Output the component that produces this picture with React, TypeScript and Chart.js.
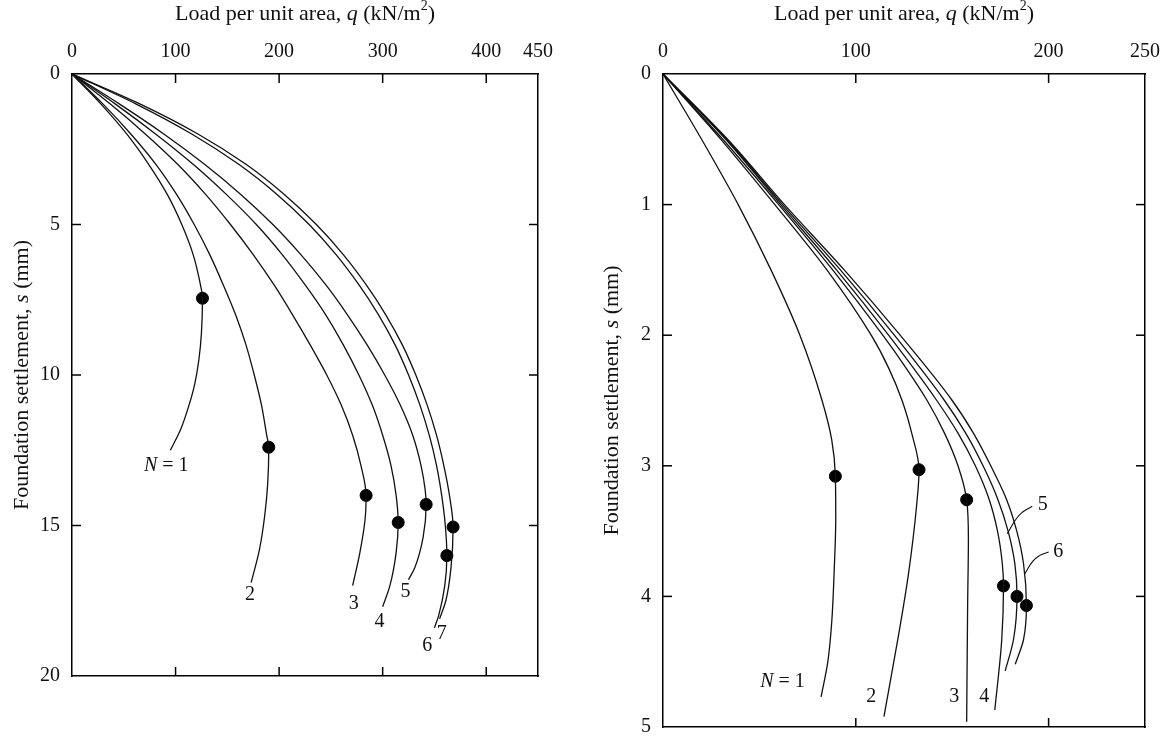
import React, { useEffect, useRef } from "react";
import { Chart, registerables } from "chart.js";

Chart.register(...registerables);

type Pair = [number, number];
type Seg = { t: string; it?: boolean; sup?: boolean };

const FONT = "'Liberation Serif', 'Times New Roman', serif";
const TICK_SIZE = 20;
const TITLE_SIZE = 22;
const LABEL_SIZE = 20;

// ---------- Left panel data (q in kN/m², s in mm) ----------
const leftXTicks = [0, 100, 200, 300, 400, 450];
const leftYTicks = [0, 5, 10, 15, 20];
const leftInnerXTicks = [100, 200, 300, 400];
const leftInnerYTicks = [5, 10, 15];

const leftN1: Pair[] = [[0, 0], [28, 1], [53, 2], [74, 3], [92, 4], [106, 5], [117, 6], [124, 7], [126, 7.45], [125, 8.6], [122.5, 9.5], [118.5, 10.3], [113, 11], [105, 11.8], [95, 12.5]];
const leftN2: Pair[] = [[0, 0], [30, 1], [57, 2], [81, 3], [101, 4], [118, 5], [133, 6], [146, 7], [158, 8], [168, 9], [176, 10], [183, 11], [188, 12], [190, 12.4], [189, 13.6], [186, 14.7], [181, 15.8], [173, 16.9]];
const leftN3: Pair[] = [[0, 0], [37, 1], [71, 2], [102, 3], [129, 4], [153, 5], [175, 6], [195, 7], [213, 8], [230, 9], [246, 10], [260, 11], [271, 12], [279, 13], [284, 14.0], [283, 14.8], [278, 15.9], [271, 17.0]];
const leftN4: Pair[] = [[0, 0], [42, 1], [81, 2], [117, 3], [149, 4], [178, 5], [203, 6], [225, 7], [245, 8], [262, 9], [277, 10], [290, 11], [300, 12], [308, 13], [313, 14], [315, 14.9], [313, 15.9], [307, 17.0], [300, 17.7]];
const leftN5: Pair[] = [[0, 0], [46, 1], [89, 2], [128, 3], [163, 4], [194, 5], [221, 6], [245, 7], [266, 8], [285, 9], [302, 10], [317, 11], [329, 12], [337, 13], [341, 13.8], [342, 14.3], [339, 15.4], [331, 16.4], [325, 16.8]];
const leftN6: Pair[] = [[0, 0], [62, 1], [116, 2], [161, 3], [198, 4], [229, 5], [255, 6], [277, 7], [296, 8], [312, 9], [325, 10], [336, 11], [345, 12], [352, 13], [357, 14], [360.5, 15], [362, 16.0], [360, 17], [354, 18], [350, 18.4]];
const leftN7: Pair[] = [[0, 0], [66, 1], [122, 2], [168, 3], [205, 4], [236, 5], [262, 6], [284, 7], [303, 8], [319, 9], [332, 10], [343, 11], [352, 12], [359, 13], [364.5, 14], [368, 15.05], [366, 16.4], [361, 17.5], [355, 18.1]];
const leftCurves = [leftN1, leftN2, leftN3, leftN4, leftN5, leftN6, leftN7];
const leftPeaks: Pair[] = [[126, 7.45], [190, 12.4], [284, 14.0], [315, 14.9], [342, 14.3], [362, 16.0], [368, 15.05]];
const leftLabelText = ["N = 1", "2", "3", "4", "5", "6", "7"];
const leftLabelPos: Pair[] = [[91, 13.0], [172, 17.3], [272, 17.6], [297, 18.2], [322, 17.2], [343, 19.0], [357, 18.6]];

// ---------- Right panel data ----------
const rightXTicks = [0, 100, 200, 250];
const rightYTicks = [0, 1, 2, 3, 4, 5];
const rightInnerXTicks = [100, 200];
const rightInnerYTicks = [1, 2, 3, 4];

const rightN1: Pair[] = [[0, 0], [20, 0.5], [39, 1], [56, 1.5], [71, 2], [82.5, 2.5], [87.5, 2.8], [89.4, 3.08], [89.6, 3.4], [88.8, 3.8], [87.5, 4.2], [85.5, 4.5], [82, 4.77]];
const rightN2: Pair[] = [[0, 0], [30, 0.5], [58, 1], [85, 1.5], [108, 2], [117, 2.25], [124, 2.5], [129, 2.75], [132.8, 3.03], [131.5, 3.31], [127.4, 3.82], [121.9, 4.32], [114.6, 4.92]];
const rightN3: Pair[] = [[0, 0], [31, 0.5], [60, 1], [88, 1.5], [114, 2], [126, 2.25], [137, 2.5], [146, 2.75], [153, 3], [157.5, 3.26], [158.4, 3.56], [158, 4.07], [157.5, 4.96]];
const rightN4: Pair[] = [[0, 0], [32.5, 0.5], [61, 1], [90, 1.5], [117, 2], [142, 2.5], [153, 2.75], [162, 3], [169, 3.25], [173.5, 3.5], [176, 3.75], [176.6, 3.92], [175.7, 4.33], [172.1, 4.87]];
const rightN5: Pair[] = [[0, 0], [33, 0.5], [62, 1], [92, 1.5], [120, 2], [146, 2.5], [157, 2.75], [166, 3], [173.5, 3.25], [179, 3.5], [182.5, 3.75], [183.6, 4.0], [181.8, 4.33], [177.5, 4.57]];
const rightN6: Pair[] = [[0, 0], [33.5, 0.5], [63, 1], [94, 1.5], [123, 2], [150, 2.5], [161, 2.75], [170, 3], [178, 3.25], [183.5, 3.5], [187, 3.75], [188.5, 4.07], [187, 4.33], [182.7, 4.52]];
const rightCurves = [rightN1, rightN2, rightN3, rightN4, rightN5, rightN6];
const rightPeaks: Pair[] = [[89.4, 3.08], [132.8, 3.03], [157.5, 3.26], [176.6, 3.92], [183.6, 4.0], [188.5, 4.07]];
const rightLabelText = ["N = 1", "2", "3", "4", "5", "6"];
const rightLabelPos: Pair[] = [[62, 4.65], [108, 4.77], [151, 4.77], [166.6, 4.77], [197, 3.3], [205, 3.66]];
const rightLeader5: Pair[] = [[178.5, 3.52], [186, 3.36], [191.5, 3.31]];
const rightLeader6: Pair[] = [[187.5, 3.83], [195, 3.69], [200, 3.66]];
const rightLeaders = [rightLeader5, rightLeader6];

const xTitle: Seg[] = [{ t: "Load per unit area, " }, { t: "q", it: true }, { t: " (kN/m" }, { t: "2", sup: true }, { t: ")" }];
const yTitle: Seg[] = [{ t: "Foundation settlement, " }, { t: "s", it: true }, { t: " (mm)" }];

function labelSegs(text: string): Seg[] {
  if (text.startsWith("N")) return [{ t: "N", it: true }, { t: text.slice(1) }];
  return [{ t: text }];
}

function drawRich(ctx: CanvasRenderingContext2D, segs: Seg[], cx: number, cy: number, size: number) {
  const fontFor = (s: Seg) => `${s.it ? "italic " : ""}${s.sup ? Math.round(size * 0.62) : size}px ${FONT}`;
  let total = 0;
  const widths = segs.map((s) => {
    ctx.font = fontFor(s);
    const w = ctx.measureText(s.t).width;
    total += w;
    return w;
  });
  let x = cx - total / 2;
  ctx.textAlign = "left";
  ctx.textBaseline = "middle";
  segs.forEach((s, i) => {
    ctx.font = fontFor(s);
    ctx.fillText(s.t, x, s.sup ? cy - size * 0.35 : cy);
    x += widths[i];
  });
}

type PanelCfg = {
  canvasLeft: number;
  width: number;
  height: number;
  area: { left: number; right: number; top: number; bottom: number };
  xMax: number;
  yMax: number;
  xTicks: number[];
  yTicks: number[];
  innerX: number[];
  innerY: number[];
  curves: Pair[][];
  peaks: Pair[];
  labelText: string[];
  labelPos: Pair[];
  leaders: Pair[][];
};

const leftCfg: PanelCfg = {
  canvasLeft: 0,
  width: 590,
  height: 751,
  area: { left: 72, right: 538, top: 74, bottom: 676 },
  xMax: 450,
  yMax: 20,
  xTicks: leftXTicks,
  yTicks: leftYTicks,
  innerX: leftInnerXTicks,
  innerY: leftInnerYTicks,
  curves: leftCurves,
  peaks: leftPeaks,
  labelText: leftLabelText,
  labelPos: leftLabelPos,
  leaders: [],
};

const rightCfg: PanelCfg = {
  canvasLeft: 590,
  width: 586,
  height: 751,
  area: { left: 73, right: 555, top: 74, bottom: 744 },
  xMax: 250,
  yMax: 5,
  xTicks: rightXTicks,
  yTicks: rightYTicks,
  innerX: rightInnerXTicks,
  innerY: rightInnerYTicks,
  curves: rightCurves,
  peaks: rightPeaks,
  labelText: rightLabelText,
  labelPos: rightLabelPos,
  leaders: rightLeaders,
};

const toPts = (arr: Pair[]) => arr.map(([x, y]) => ({ x, y }));

function makeDecor(cfg: PanelCfg) {
  return {
    id: "decor",
    afterDraw(chart: any) {
      const { ctx, chartArea: ca, scales } = chart;
      const xs = scales.x;
      const ys = scales.y;
      ctx.save();
      ctx.strokeStyle = "#000";
      ctx.lineWidth = 1.5;
      const L = 9;
      const seg = (a: number, b: number, c: number, d: number) => {
        ctx.beginPath();
        ctx.moveTo(a, b);
        ctx.lineTo(c, d);
        ctx.stroke();
      };
      cfg.innerX.forEach((v) => {
        const p = xs.getPixelForValue(v);
        seg(p, ca.top, p, ca.top + L);
        seg(p, ca.bottom, p, ca.bottom - L);
      });
      cfg.innerY.forEach((v) => {
        const p = ys.getPixelForValue(v);
        seg(ca.left, p, ca.left + L, p);
        seg(ca.right, p, ca.right - L, p);
      });
      ctx.fillStyle = "#111";
      cfg.labelText.forEach((t, i) => {
        const [q, s] = cfg.labelPos[i];
        drawRich(ctx, labelSegs(t), xs.getPixelForValue(q), ys.getPixelForValue(s), LABEL_SIZE);
      });
      drawRich(ctx, xTitle, (ca.left + ca.right) / 2, 14, TITLE_SIZE);
      ctx.translate(22, (ca.top + ca.bottom) / 2);
      ctx.rotate(-Math.PI / 2);
      drawRich(ctx, yTitle, 0, 0, TITLE_SIZE);
      ctx.restore();
    },
  };
}

function Panel({ cfg }: { cfg: PanelCfg }) {
  const ref = useRef<HTMLCanvasElement | null>(null);
  useEffect(() => {
    if (!ref.current) return;
    const a = cfg.area;
    const tickFont = { family: FONT, size: TICK_SIZE };
    const border = { display: true, color: "#000", width: 1.5 };
    const curveSets = cfg.curves.map((c) => ({
      data: toPts(c),
      borderColor: "#111",
      borderWidth: 1.3,
      pointRadius: 0,
      cubicInterpolationMode: "monotone",
      fill: false,
    }));
    const leaderSets = cfg.leaders.map((c) => ({
      data: toPts(c),
      borderColor: "#111",
      borderWidth: 1.1,
      pointRadius: 0,
      cubicInterpolationMode: "monotone",
      fill: false,
    }));
    const peakSet = {
      data: toPts(cfg.peaks),
      showLine: false,
      pointRadius: 6,
      pointBackgroundColor: "#000",
      pointBorderColor: "#000",
      borderColor: "#000",
    };
    const chart = new Chart(ref.current, {
      type: "line",
      data: { datasets: [...curveSets, ...leaderSets, peakSet] as any },
      options: {
        indexAxis: "y",
        animation: false,
        responsive: false,
        maintainAspectRatio: false,
        layout: { padding: 0 },
        plugins: { legend: { display: false }, tooltip: { enabled: false }, title: { display: false } },
        scales: {
          x: {
            type: "linear",
            axis: "x",
            position: "top",
            min: 0,
            max: cfg.xMax,
            afterBuildTicks: (s: any) => {
              s.ticks = cfg.xTicks.map((v) => ({ value: v }));
            },
            grid: { display: false, drawTicks: false },
            border,
            ticks: { color: "#111", font: tickFont, padding: 10, maxRotation: 0, autoSkip: false },
            afterFit: (s: any) => {
              s.height = a.top;
            },
          },
          x2: {
            type: "linear",
            axis: "x",
            position: "bottom",
            min: 0,
            max: cfg.xMax,
            grid: { display: false, drawTicks: false },
            border,
            ticks: { display: false },
            afterFit: (s: any) => {
              s.height = cfg.height - a.bottom;
            },
          },
          y: {
            type: "linear",
            axis: "y",
            position: "left",
            reverse: true,
            min: 0,
            max: cfg.yMax,
            afterBuildTicks: (s: any) => {
              s.ticks = cfg.yTicks.map((v) => ({ value: v }));
            },
            grid: { display: false, drawTicks: false },
            border,
            ticks: { color: "#111", font: tickFont, padding: 12, autoSkip: false },
            afterFit: (s: any) => {
              s.width = a.left;
            },
          },
          y2: {
            type: "linear",
            axis: "y",
            position: "right",
            reverse: true,
            min: 0,
            max: cfg.yMax,
            grid: { display: false, drawTicks: false },
            border,
            ticks: { display: false },
            afterFit: (s: any) => {
              s.width = cfg.width - a.right;
            },
          },
        } as any,
      },
      plugins: [makeDecor(cfg)],
    });
    return () => chart.destroy();
  }, [cfg]);
  return (
    <canvas
      ref={ref}
      width={cfg.width}
      height={cfg.height}
      style={{ position: "absolute", left: cfg.canvasLeft, top: 0, width: cfg.width, height: cfg.height }}
    />
  );
}

export default function App() {
  useEffect(() => {
    document.body.style.margin = "0";
    document.body.style.background = "#fff";
  }, []);
  return (
    <div style={{ position: "relative", width: 1176, height: 751, background: "#fff", overflow: "hidden" }}>
      <Panel cfg={leftCfg} />
      <Panel cfg={rightCfg} />
    </div>
  );
}
